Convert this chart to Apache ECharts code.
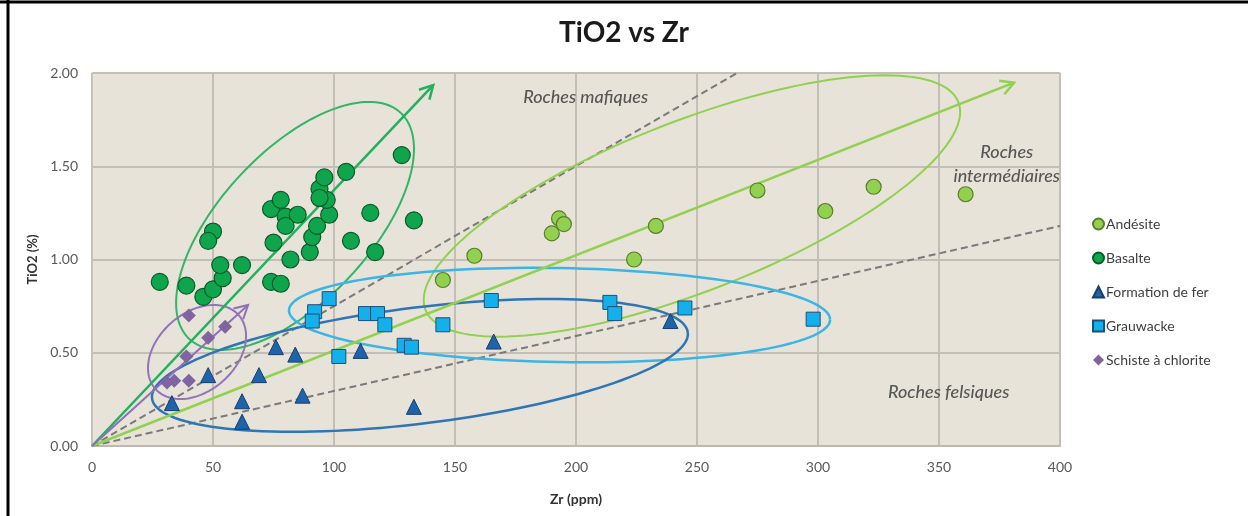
<!DOCTYPE html>
<html>
<head>
<meta charset="utf-8">
<script src="https://cdn.jsdelivr.net/npm/echarts@6/dist/echarts.min.js"></script>
<style>
html,body{margin:0;padding:0;background:#fff;}
#chart{width:1248px;height:516px;}
</style>
</head>
<body>
<div id="chart"></div>
<script>
// ---------- data ----------
const SERIES_NAMES = ['Andésite', 'Basalte', 'Formation de fer', 'Grauwacke', 'Schiste à chlorite'];
const andesite = [[145,0.89],[158,1.02],[190,1.14],[193,1.22],[195,1.19],[224,1.00],[233,1.18],[275,1.37],[303,1.26],[323,1.39],[361,1.35]];
const basalte = [[28,0.88],[39,0.86],[46,0.80],[50,0.84],[54,0.90],[53,0.97],[62,0.97],[50,1.15],[48,1.10],[74,0.88],[78,0.87],[82,1.00],[75,1.09],[74,1.27],[78,1.32],[80,1.23],[85,1.24],[80,1.18],[90,1.04],[91,1.12],[93,1.18],[98,1.24],[97,1.32],[94,1.38],[96,1.44],[94,1.33],[105,1.47],[115,1.25],[107,1.10],[117,1.04],[128,1.56],[133,1.21]];
const formationFer = [[33,0.23],[48,0.38],[62,0.24],[62,0.13],[69,0.38],[76,0.53],[84,0.49],[87,0.27],[111,0.51],[133,0.21],[166,0.56],[239,0.67]];
const grauwacke = [[98,0.79],[92,0.72],[91,0.67],[113,0.71],[118,0.71],[121,0.65],[129,0.54],[132,0.53],[102,0.48],[145,0.65],[165,0.78],[214,0.77],[216,0.71],[245,0.74],[298,0.68]];
const schiste = [[40,0.70],[55,0.64],[48,0.58],[39,0.48],[31,0.34],[34,0.35],[40,0.35]];

// reference lines from origin: end points [Zr, TiO2]
const refLineEnds = [[266.5, 2.0], [400, 1.18]];
// trend arrows from origin: end points [Zr, TiO2]
const arrowBasalte = [141, 1.935];
const arrowAndesite = [381, 1.948];
const arrowSchiste = [64.5, 0.756];
// ellipses: [centerZr, centerTi, majorEndZr, majorEndTi, minorEndZr, minorEndTi]
const ellBasalte = [83.9, 1.180, 127.6, 1.786, 106.4, 0.906];
const ellAndesite = [247.9, 1.287, 358.0, 1.844, 260.7, 0.862];
const ellFer = [135.5, 0.432, 246.2, 0.609, 138.4, 0.123];
const ellGrauwacke = [193.2, 0.702, 305.0, 0.677, 192.9, 0.450];
const ellSchiste = [43.4, 0.504, 60.6, 0.702, 54.1, 0.348];
// zone labels
const zoneLabels = [['Roches mafiques', 204, 1.87], ['Roches\nintermédiaires', 378, 1.51], ['Roches felsiques', 354, 0.29]];

// ---------- helpers ----------
function ellipseSeries(e, color, width) {
  return {
    type: 'custom', silent: true, z: 3, data: [e.slice(0, 2)],
    renderItem: function (params, api) {
      const c = api.coord([e[0], e[1]]), a = api.coord([e[2], e[3]]), b = api.coord([e[4], e[5]]);
      const ax = a[0] - c[0], ay = a[1] - c[1], bx = b[0] - c[0], by = b[1] - c[1];
      const pts = [];
      for (let i = 0; i <= 144; i++) {
        const t = i / 144 * 2 * Math.PI;
        pts.push([c[0] + Math.cos(t) * ax + Math.sin(t) * bx, c[1] + Math.cos(t) * ay + Math.sin(t) * by]);
      }
      return { type: 'polyline', shape: { points: pts }, style: { fill: null, stroke: color, lineWidth: width } };
    }
  };
}
function arrowSeries(end, color, width) {
  return {
    type: 'custom', silent: true, z: 3, data: [end],
    renderItem: function (params, api) {
      const o = api.coord([0, 0]), p = api.coord(end);
      const ang = Math.atan2(p[1] - o[1], p[0] - o[0]);
      const L = 15, s = 0.5;
      const h1 = [p[0] - L * Math.cos(ang - s), p[1] - L * Math.sin(ang - s)];
      const h2 = [p[0] - L * Math.cos(ang + s), p[1] - L * Math.sin(ang + s)];
      return {
        type: 'group', children: [
          { type: 'line', shape: { x1: o[0], y1: o[1], x2: p[0], y2: p[1] }, style: { stroke: color, lineWidth: width } },
          { type: 'polyline', shape: { points: [h1, p, h2] }, style: { fill: null, stroke: color, lineWidth: width } }
        ]
      };
    }
  };
}
function refLine(end) {
  return {
    type: 'line', silent: true, z: 2, symbol: 'none', data: [[0, 0], end],
    lineStyle: { color: '#7a7a7a', width: 2, type: [7, 4] }
  };
}

const FONT = 'Lato, "Open Sans", sans-serif';
const chart = echarts.init(document.getElementById('chart'));
const option = {
  animation: false,
  backgroundColor: '#ffffff',
  title: {
    text: 'TiO2 vs Zr', left: 'center', top: 14,
    textStyle: { fontFamily: FONT, fontSize: 28, fontWeight: 'bold', color: '#1a1a1a' }
  },
  legend: {
    orient: 'vertical', left: 1087, top: 212, itemGap: 20, itemWidth: 11, itemHeight: 11,
    data: SERIES_NAMES,
    textStyle: { fontFamily: FONT, fontSize: 14, color: '#404040', padding: [0, 0, 0, -3] }
  },
  grid: {
    left: 92, right: 188, top: 73, bottom: 70, show: true,
    backgroundColor: '#e7e3d9', borderColor: '#c8c4bb', borderWidth: 1
  },
  xAxis: {
    type: 'value', min: 0, max: 400, interval: 50,
    name: 'Zr (ppm)', nameLocation: 'middle', nameGap: 46,
    nameTextStyle: { fontFamily: FONT, fontSize: 14, fontWeight: 'bold', color: '#333' },
    axisLine: { show: true, lineStyle: { color: '#bdb9b0', width: 2 } },
    axisTick: { show: false },
    axisLabel: { fontFamily: FONT, fontSize: 14, color: '#595959', margin: 14 },
    splitLine: { show: true, lineStyle: { color: '#c3bfb6', width: 2 } }
  },
  yAxis: {
    type: 'value', min: 0, max: 2, interval: 0.5,
    name: 'TiO2 (%)', nameLocation: 'middle', nameGap: 48,
    nameTextStyle: { fontFamily: FONT, fontSize: 13, fontWeight: 'bold', color: '#333' },
    axisLine: { show: true, lineStyle: { color: '#c8c4bb', width: 1 } },
    axisTick: { show: false },
    axisLabel: { fontFamily: FONT, fontSize: 14, color: '#595959', margin: 14, formatter: v => v.toFixed(2) },
    splitLine: { show: true, lineStyle: { color: '#c3bfb6', width: 2 } }
  },
  graphic: [
    { type: 'line', shape: { x1: 0, y1: 2, x2: 1248, y2: 2 }, style: { stroke: '#000', lineWidth: 3 }, z: 100 },
    { type: 'line', shape: { x1: 8, y1: 0, x2: 8, y2: 516 }, style: { stroke: '#000', lineWidth: 3 }, z: 100 }
  ],
  series: [
    refLine(refLineEnds[0]),
    refLine(refLineEnds[1]),
    ellipseSeries(ellBasalte, '#33b566', 2),
    ellipseSeries(ellAndesite, '#92d050', 2),
    ellipseSeries(ellGrauwacke, '#3cb4e6', 2.5),
    ellipseSeries(ellFer, '#2e75b6', 2.5),
    ellipseSeries(ellSchiste, '#9274bb', 2),
    arrowSeries(arrowBasalte, '#22b05c', 2.5),
    arrowSeries(arrowAndesite, '#92d050', 2.5),
    arrowSeries(arrowSchiste, '#8f70b8', 2),
    {
      name: 'Andésite', type: 'scatter', z: 5, symbol: 'circle', symbolSize: 15, data: andesite,
      itemStyle: { color: '#92d050', borderColor: '#5b7d2b', borderWidth: 1.2, opacity: 1 }
    },
    {
      name: 'Basalte', type: 'scatter', z: 5, symbol: 'circle', symbolSize: 17, data: basalte,
      itemStyle: { color: '#0ea54c', borderColor: '#0b5a28', borderWidth: 1.2, opacity: 1 }
    },
    {
      name: 'Formation de fer', type: 'scatter', z: 5, symbol: 'triangle', symbolSize: 15, data: formationFer,
      itemStyle: { color: '#1f63ab', borderColor: '#173f6e', borderWidth: 1, opacity: 1 }
    },
    {
      name: 'Grauwacke', type: 'scatter', z: 5, symbol: 'rect', symbolSize: 14, data: grauwacke,
      itemStyle: { color: '#14b0ec', borderColor: '#1f4e79', borderWidth: 1, opacity: 1 }
    },
    {
      name: 'Schiste à chlorite', type: 'scatter', z: 5, symbol: 'diamond', symbolSize: 14, data: schiste,
      itemStyle: { color: '#8064a2', opacity: 1 }
    },
    {
      type: 'scatter', silent: true, z: 6, symbolSize: 1, itemStyle: { color: 'rgba(0,0,0,0)' },
      data: zoneLabels.map(d => ({ name: d[0], value: [d[1], d[2]] })),
      label: {
        show: true, position: 'inside', formatter: p => p.name, align: 'center', verticalAlign: 'middle',
        fontFamily: FONT, fontStyle: 'italic', fontWeight: 500, fontSize: 18, color: '#333333', lineHeight: 24
      }
    }
  ]
};
chart.setOption(option);
</script>
</body>
</html>
